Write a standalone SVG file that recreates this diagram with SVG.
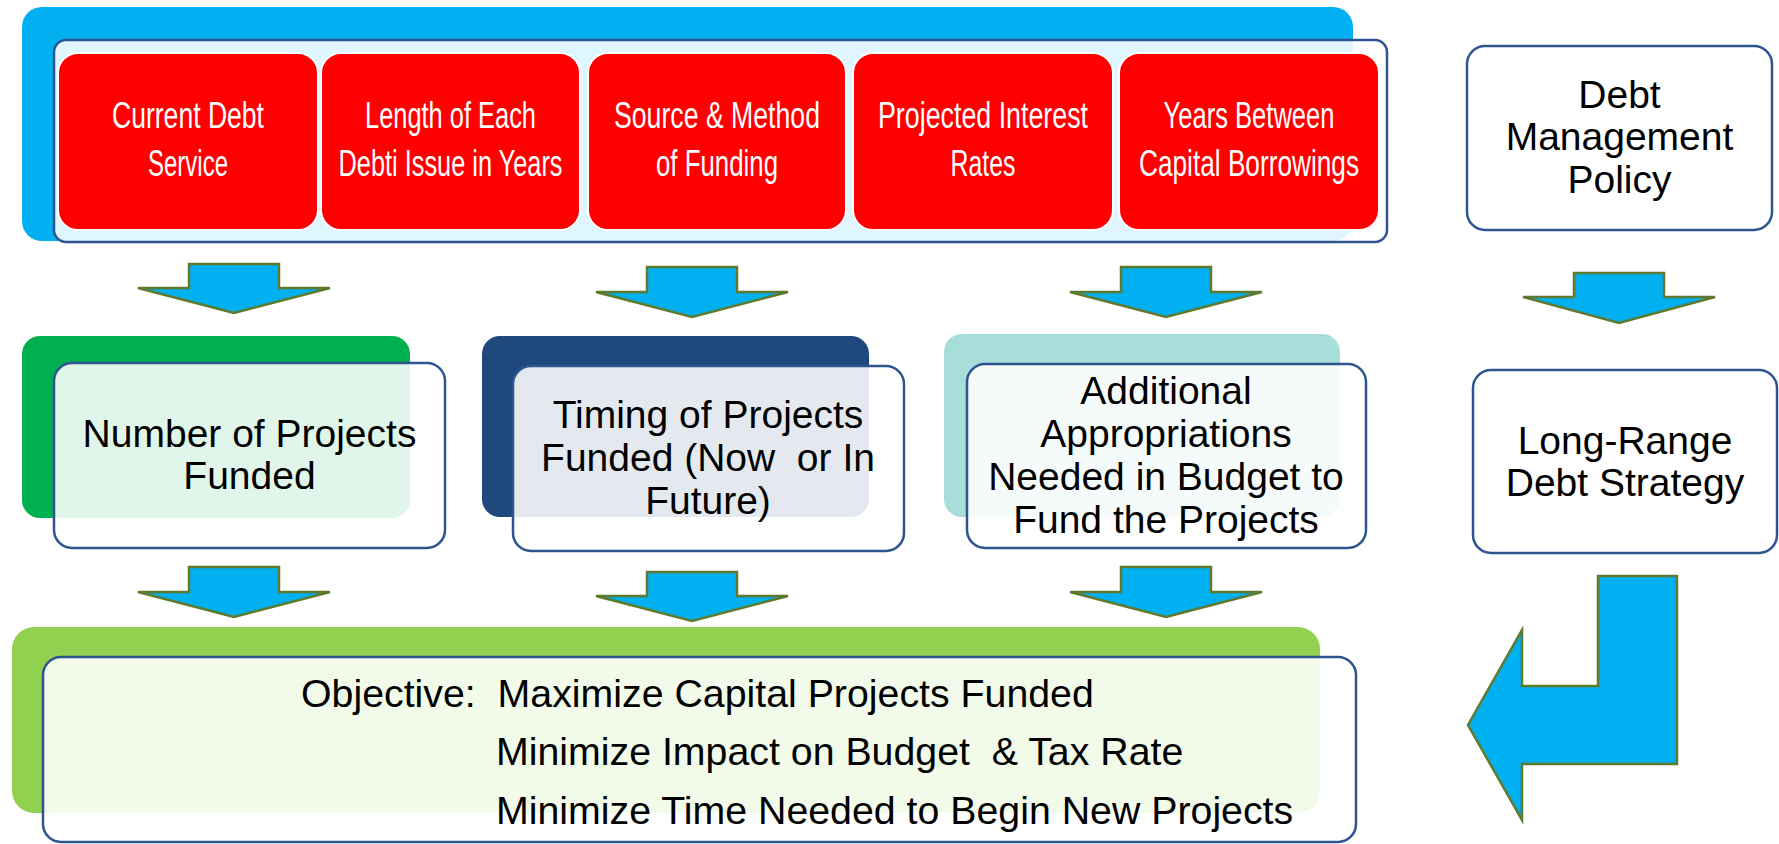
<svg xmlns="http://www.w3.org/2000/svg" width="1779" height="844" viewBox="0 0 1779 844">
  <style>
    .front { fill: #ffffff; fill-opacity: 0.88; stroke: #2E5590; stroke-width: 2.5; }
    .plain { fill: #ffffff; stroke: #2E5590; stroke-width: 2.5; }
    .red { fill: #FF0000; stroke: #ffffff; stroke-width: 2; }
    .arrow { fill: #00B0F0; stroke: #5E7A2E; stroke-width: 2.5; stroke-linejoin: miter; }
    .lbl { font-family: "Liberation Sans", Arial, sans-serif; font-size: 39px; fill: #000000; text-anchor: middle; }
    .rl { font-family: "Liberation Sans", Arial, sans-serif; font-size: 37.5px; fill: #ffffff; text-anchor: middle; }
    .obj { font-family: "Liberation Sans", Arial, sans-serif; font-size: 39.3px; fill: #000000; white-space: pre; }
  </style>
  <rect width="1779" height="844" fill="#ffffff"/>

  <!-- Top band: inputs to the debt model -->
  <g id="inputs">
    <rect x="22" y="7" width="1331" height="234" rx="20" fill="#00B0F0"/>
    <rect class="front" x="54" y="40" width="1333" height="202" rx="12"/>
    <g id="current-debt-service">
      <rect class="red" x="58" y="53" width="260" height="177" rx="20"/>
      <text class="rl" x="188" y="128" textLength="152" lengthAdjust="spacingAndGlyphs">Current Debt</text>
      <text class="rl" x="188" y="176" textLength="80" lengthAdjust="spacingAndGlyphs">Service</text>
    </g>
    <g id="issue-length">
      <rect class="red" x="321" y="53" width="259" height="177" rx="20"/>
      <text class="rl" x="450.5" y="128" textLength="171" lengthAdjust="spacingAndGlyphs">Length of Each</text>
      <text class="rl" x="450.5" y="176" textLength="224" lengthAdjust="spacingAndGlyphs">Debti Issue in Years</text>
    </g>
    <g id="funding-source">
      <rect class="red" x="588" y="53" width="258" height="177" rx="20"/>
      <text class="rl" x="717" y="128" textLength="206" lengthAdjust="spacingAndGlyphs">Source &amp; Method</text>
      <text class="rl" x="717" y="176" textLength="122" lengthAdjust="spacingAndGlyphs">of Funding</text>
    </g>
    <g id="interest-rates">
      <rect class="red" x="853" y="53" width="260" height="177" rx="20"/>
      <text class="rl" x="983" y="128" textLength="210" lengthAdjust="spacingAndGlyphs">Projected Interest</text>
      <text class="rl" x="983" y="176" textLength="65" lengthAdjust="spacingAndGlyphs">Rates</text>
    </g>
    <g id="borrowing-interval">
      <rect class="red" x="1119" y="53" width="260" height="177" rx="20"/>
      <text class="rl" x="1249" y="128" textLength="171" lengthAdjust="spacingAndGlyphs">Years Between</text>
      <text class="rl" x="1249" y="176" textLength="220" lengthAdjust="spacingAndGlyphs">Capital Borrowings</text>
    </g>
  </g>

  <g id="debt-policy">
    <rect class="plain" x="1467" y="46" width="305" height="184" rx="18"/>
    <text class="lbl" x="1619.5" y="108">Debt</text>
    <text class="lbl" x="1619.5" y="150">Management</text>
    <text class="lbl" x="1619.5" y="193">Policy</text>
  </g>

  <!-- Middle row: outcomes -->
  <g id="projects-funded">
    <rect x="22" y="336" width="388" height="182" rx="18" fill="#00B050"/>
    <rect class="front" x="54" y="363" width="391" height="185" rx="18"/>
    <text class="lbl" x="249.5" y="447">Number of Projects</text>
    <text class="lbl" x="249.5" y="489">Funded</text>
  </g>

  <g id="project-timing">
    <rect x="482" y="336" width="387" height="181" rx="18" fill="#1F497D"/>
    <rect class="front" x="513" y="366" width="391" height="185" rx="18"/>
    <text class="lbl" x="708" y="428">Timing of Projects</text>
    <text class="lbl" x="708" y="471" style="white-space:pre">Funded (Now  or In</text>
    <text class="lbl" x="708" y="514">Future)</text>
  </g>

  <g id="appropriations">
    <rect x="944" y="334" width="396" height="183" rx="18" fill="#A8DEDA"/>
    <rect class="front" x="967" y="364" width="399" height="184" rx="18"/>
    <text class="lbl" x="1166" y="404">Additional</text>
    <text class="lbl" x="1166" y="447">Appropriations</text>
    <text class="lbl" x="1166" y="490">Needed in Budget to</text>
    <text class="lbl" x="1166" y="533">Fund the Projects</text>
  </g>

  <g id="debt-strategy">
    <rect class="plain" x="1473" y="370" width="304" height="183" rx="18"/>
    <text class="lbl" x="1625" y="454">Long-Range</text>
    <text class="lbl" x="1625" y="496">Debt Strategy</text>
  </g>

  <!-- Bottom: objective -->
  <g id="objective">
    <rect x="12" y="627" width="1308" height="186" rx="22" fill="#92D050"/>
    <rect class="front" x="43" y="657" width="1313" height="185" rx="18"/>
    <text class="obj" x="301" y="707">Objective:  Maximize Capital Projects Funded</text>
    <text class="obj" x="496" y="765">Minimize Impact on Budget  &amp; Tax Rate</text>
    <text class="obj" x="496" y="824">Minimize Time Needed to Begin New Projects</text>
  </g>

  <!-- Block arrows -->
  <g id="connectors">
    <polygon class="arrow" points="189,264 279,264 279,288 330,288 234,313 138,288 189,288"/>
    <polygon class="arrow" points="647,267 737,267 737,292 788,292 692,317 596,292 647,292"/>
    <polygon class="arrow" points="1121,267 1211,267 1211,292 1262,292 1166,317 1070,292 1121,292"/>
    <polygon class="arrow" points="1574,273 1664,273 1664,297 1715,297 1619,323 1523,297 1574,297"/>
    <polygon class="arrow" points="189,567 279,567 279,592 330,592 234,617 138,592 189,592"/>
    <polygon class="arrow" points="647,572 737,572 737,596 788,596 692,621 596,596 647,596"/>
    <polygon class="arrow" points="1121,567 1211,567 1211,592 1262,592 1166,617 1070,592 1121,592"/>
    <polygon class="arrow" points="1598,576 1677,576 1677,764 1522,764 1522,820 1468,725 1522,630 1522,686 1598,686"/>
  </g>
</svg>
